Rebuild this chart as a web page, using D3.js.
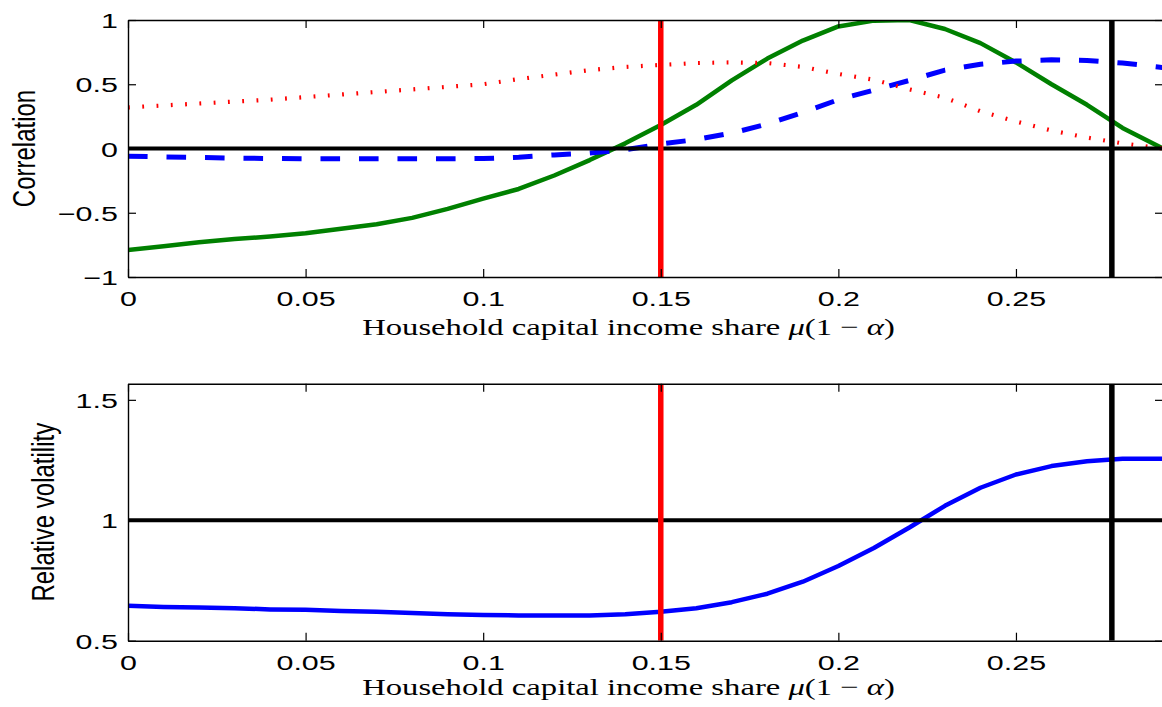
<!DOCTYPE html>
<html>
<head>
<meta charset="utf-8">
<script src="https://cdn.jsdelivr.net/npm/d3@7"></script>
<style>
  html, body { margin: 0; padding: 0; background: #fff; }
  svg { display: block; }
</style>
</head>
<body>
<svg id="chart" width="1162" height="707"></svg>
<script>
// ---- data ----
const xs = [0, 0.01, 0.02, 0.03, 0.04, 0.05, 0.06, 0.07, 0.08, 0.09,
            0.10, 0.11, 0.12, 0.13, 0.14, 0.15, 0.16, 0.17, 0.18, 0.19,
            0.20, 0.21, 0.22, 0.23, 0.24, 0.25, 0.26, 0.27, 0.28, 0.29, 0.2914];

const corrGreen = [-0.79, -0.76, -0.73, -0.705, -0.685, -0.66, -0.625, -0.59, -0.54, -0.47,
                   -0.39, -0.315, -0.21, -0.09, 0.04, 0.183, 0.34, 0.53, 0.70, 0.84,
                   0.95, 0.995, 1.0, 0.93, 0.82, 0.67, 0.50, 0.34, 0.16, 0.02, 0.0];

const corrBlue = [-0.06, -0.065, -0.07, -0.075, -0.078, -0.08, -0.08, -0.08, -0.08, -0.08,
                  -0.078, -0.068, -0.05, -0.035, -0.01, 0.035, 0.07, 0.12, 0.19, 0.28,
                  0.38, 0.455, 0.53, 0.61, 0.655, 0.68, 0.69, 0.685, 0.665, 0.635, 0.63];

const corrRed = [0.32, 0.335, 0.35, 0.365, 0.38, 0.40, 0.42, 0.44, 0.46, 0.48,
                 0.50, 0.54, 0.575, 0.61, 0.635, 0.65, 0.665, 0.67, 0.665, 0.635,
                 0.58, 0.535, 0.46, 0.395, 0.29, 0.21, 0.14, 0.085, 0.04, 0.005, 0.0];

const volBlue = [0.645, 0.64, 0.638, 0.635, 0.63, 0.628, 0.623, 0.62, 0.615, 0.61,
                 0.607, 0.605, 0.605, 0.605, 0.61, 0.62, 0.635, 0.66, 0.695, 0.745,
                 0.81, 0.885, 0.97, 1.06, 1.135, 1.19, 1.225, 1.245, 1.255, 1.255, 1.255];

const xTicks = [0, 0.05, 0.1, 0.15, 0.2, 0.25];
const corrTicks = [-1, -0.5, 0, 0.5, 1];
const volTicks = [0.5, 1, 1.5];
const xDomain = [0, 0.2914];
const corrDomain = [-1, 1];
const volDomain = [0.5, 1.567];
const vLineRed = 0.15;
const vLineBlack = 0.277;
const corrRef = 0;
const volRef = 1;
const xLabelText = "Household capital income share ";
const yLabelTop = "Correlation";
const yLabelBottom = "Relative volatility";

// ---- drawing ----
const svg = d3.select("#chart");
const L = 128, R = 1163;
const x = d3.scaleLinear().domain(xDomain).range([L, R]);

const panels = [
  { top: 20, bottom: 277, domain: corrDomain, ticks: corrTicks, ylabel: yLabelTop,
    ylx: 23.5, xlabBase: 335, id: "p1" },
  { top: 383.7, bottom: 640.7, domain: volDomain, ticks: volTicks, ylabel: yLabelBottom,
    ylx: 43, xlabBase: 695, id: "p2" }
];
// The bottom panel domain maps 0.5 to bottom, so adjust range to keep 0.5..1.5 = 240px
const fmt = d => d < 0 ? "\u2212" + Math.abs(d) : String(d);
const tickFont = "'Liberation Sans', Arial, Helvetica, sans-serif";
const XS = 1.45;

panels.forEach((p, i) => {
  const y = d3.scaleLinear().domain(p.domain).range([p.bottom, p.top]);
  p.y = y;

  svg.append("clipPath").attr("id", "clip" + i)
    .append("rect").attr("x", L).attr("y", p.top).attr("width", R - L).attr("height", p.bottom - p.top);

  const g = svg.append("g");
  const plot = g.append("g").attr("clip-path", `url(#clip${i})`);

  const line = (arr) => d3.line().x((d, k) => x(xs[k])).y(d => y(d))(arr);

  if (i === 0) {
    plot.append("path").attr("d", line(corrGreen)).attr("fill", "none")
      .attr("stroke", "#008000").attr("stroke-width", 4.5).attr("stroke-linejoin", "round");
    plot.append("path").attr("d", line(corrBlue)).attr("fill", "none")
      .attr("stroke", "#0000ff").attr("stroke-width", 5).attr("stroke-dasharray", "19.6,18.9");
    plot.append("path").attr("d", line(corrRed)).attr("fill", "none")
      .attr("stroke", "#ff0000").attr("stroke-width", 4.2).attr("stroke-dasharray", "1.8,12.5");
    plot.append("line").attr("x1", L).attr("x2", R).attr("y1", y(corrRef)).attr("y2", y(corrRef))
      .attr("stroke", "#000").attr("stroke-width", 4);
  } else {
    plot.append("path").attr("d", line(volBlue)).attr("fill", "none")
      .attr("stroke", "#0000ff").attr("stroke-width", 4.5).attr("stroke-linejoin", "round");
    plot.append("line").attr("x1", L).attr("x2", R).attr("y1", y(volRef)).attr("y2", y(volRef))
      .attr("stroke", "#000").attr("stroke-width", 4);
  }
  plot.append("line").attr("x1", x(vLineRed)).attr("x2", x(vLineRed)).attr("y1", p.top).attr("y2", p.bottom)
    .attr("stroke", "#ff0000").attr("stroke-width", 5.5);
  plot.append("line").attr("x1", x(vLineBlack)).attr("x2", x(vLineBlack)).attr("y1", p.top).attr("y2", p.bottom)
    .attr("stroke", "#000").attr("stroke-width", 5.5);

  // axes
  const axB = g.append("g").attr("transform", `translate(0,${p.bottom})`)
    .call(d3.axisBottom(x).tickValues(xTicks).tickSize(-8).tickSizeOuter(0).tickPadding(14).tickFormat(fmt));
  const axT = g.append("g").attr("transform", `translate(0,${p.top})`)
    .call(d3.axisTop(x).tickValues(xTicks).tickSize(-8).tickSizeOuter(0).tickFormat(""));
  const axL = g.append("g").attr("transform", `translate(${L},0)`)
    .call(d3.axisLeft(y).tickValues(p.ticks).tickSize(-8).tickSizeOuter(0).tickPadding(7).tickFormat(fmt));
  const axR = g.append("g").attr("transform", `translate(${R},0)`)
    .call(d3.axisRight(y).tickValues(p.ticks).tickSize(-8).tickSizeOuter(0).tickFormat(""));

  [axB, axT, axL, axR].forEach(a => {
    a.select(".domain").attr("stroke", "#000").attr("stroke-width", 1.4);
    a.selectAll(".tick line").attr("stroke", "#000").attr("stroke-width", 1.2);
    a.selectAll("text").attr("font-family", tickFont).attr("font-size", 21).attr("fill", "#000")
      .attr("transform", `scale(${XS},1)`);
  });
  axL.selectAll("text").attr("dy", "0.36em");

  // y label
  g.append("text")
    .attr("transform", `translate(${p.ylx},${(p.top + p.bottom) / 2}) scale(1.3,1) rotate(-90)`)
    .attr("text-anchor", "middle").attr("dy", "0.36em")
    .attr("font-family", tickFont).attr("font-size", 24).attr("fill", "#000")
    .text(p.ylabel);

  // x label
  const xl = g.append("text")
    .attr("font-family", "'Liberation Serif', 'Times New Roman', serif").attr("font-size", 24)
    .attr("fill", "#000").attr("text-anchor", "middle");
  xl.append("tspan").text(xLabelText);
  xl.append("tspan").attr("font-style", "italic").text("\u03bc");
  xl.append("tspan").text("(1 \u2212 ");
  xl.append("tspan").attr("font-style", "italic").text("\u03b1");
  xl.append("tspan").text(")");
  const len = xl.node().getComputedTextLength();
  const s = 533 / len;
  xl.attr("transform", `translate(628.5,${p.xlabBase}) scale(${s},1)`);
});
</script>
</body>
</html>
